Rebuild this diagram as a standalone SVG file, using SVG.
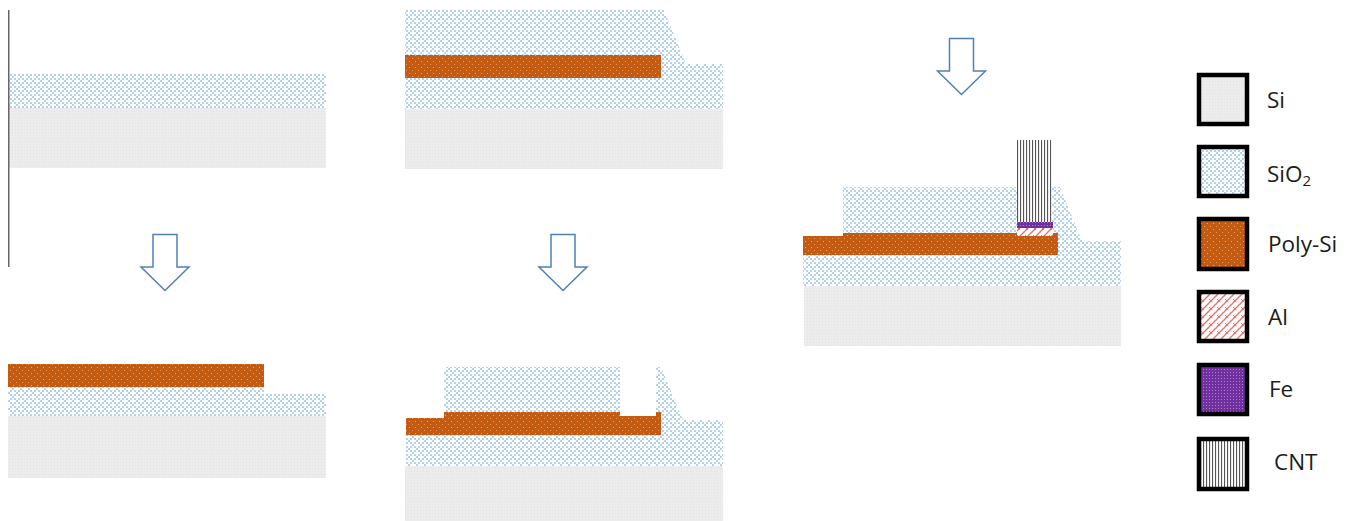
<svg xmlns="http://www.w3.org/2000/svg" width="1352" height="521" viewBox="0 0 1352 521">
<style>
.si{fill:url(#pSi)}.ox{fill:url(#pOx)}.po{fill:url(#pPo)}.al{fill:url(#pAl)}.fe{fill:url(#pFe)}.cnt{fill:url(#pCnt)}
.key{stroke:#000;stroke-width:4.5}
.arr{fill:#fff;stroke:#4f81b5;stroke-width:1.5;stroke-linejoin:miter}
text{font-family:"Open Sans","Noto Sans","Liberation Sans",sans-serif;font-size:22.5px;fill:#1c1c1c}
</style>
<defs>
<pattern id="pSi" width="3" height="3" patternUnits="userSpaceOnUse"><rect width="3" height="3" fill="#ececec"/><rect width="1" height="1" fill="#e2e2e2"/></pattern>
<pattern id="pOx" width="8" height="8" patternUnits="userSpaceOnUse"><rect width="8" height="8" fill="#fff"/><path d="M0 0h2v2h-2zM2 2h2v2h-2zM4 4h2v2h-2zM6 6h2v2h-2zM6 2h2v2h-2zM2 6h2v2h-2z" fill="#b2d1ef"/></pattern>
<pattern id="pPo" width="6" height="6" patternUnits="userSpaceOnUse"><rect width="6" height="6" fill="#c55a11"/><rect x="1" y="1" width="1" height="1" fill="#e8a878"/><rect x="4" y="4" width="1" height="1" fill="#e09860"/></pattern>
<pattern id="pAl" width="8" height="8" patternUnits="userSpaceOnUse"><rect width="8" height="8" fill="#fff"/><path d="M-1 9L9 -1M-1 1L1 -1M7 9L9 7" stroke="#e57373" stroke-width="1.4"/><path d="M1 3L4 6" stroke="#e57373" stroke-width="1"/></pattern>
<pattern id="pFe" width="3" height="3" patternUnits="userSpaceOnUse"><rect width="3" height="3" fill="#7030a0"/><rect width="1" height="1" fill="#a77cc8"/></pattern>
<pattern id="pCnt" width="3" height="3" patternUnits="userSpaceOnUse"><rect width="3" height="3" fill="#fff"/><rect x="0" width="1.1" height="3" fill="#555"/></pattern>
<path id="arrow" class="arr" d="M-12 0H12V32.500H24L0 56L-24 32.500H-12Z"/>
</defs>

<g id="connectors">
<use href="#arrow" x="165" y="234.500"/>
<use href="#arrow" x="563" y="234.500"/>
<use href="#arrow" x="961.500" y="38.500"/>
</g>

<g id="step-1">
<rect class="si" x="8" y="108" width="318" height="60"/>
<rect class="ox" x="8" y="74" width="318" height="34"/>
<rect x="8" y="10" width="1.500" height="257" fill="#666"/>
</g>

<g id="step-2">
<rect class="si" x="8" y="416" width="318" height="62"/>
<path class="ox" d="M8 387H264V394H326V416H8Z"/>
<rect class="po" x="8" y="364" width="256" height="23"/>
</g>

<g id="step-3">
<rect class="si" x="405" y="109" width="318" height="60"/>
<path class="ox" d="M405 10H664L686 64H723V109H405Z"/>
<rect class="po" x="405" y="55" width="256" height="23"/>
</g>

<g id="step-4">
<rect class="si" x="405" y="466" width="318" height="55"/>
<path class="ox" d="M406 434H661V416H656V367H661L683 420H723V466H406Z"/>
<rect class="ox" x="444" y="367" width="176" height="46"/>
<path class="po" d="M406 418H444V412H620V416H656V412H661V435H406Z"/>
</g>

<g id="step-5">
<rect class="si" x="804" y="286" width="317" height="60"/>
<path class="ox" d="M803 255H1058V187L1060 187L1082 241H1121V286H803Z"/>
<rect class="ox" x="843" y="187" width="174" height="47"/>
<rect class="ox" x="1051" y="187" width="8" height="46"/>
<path class="po" d="M803 236H843V233H1058V255H803Z"/>
<rect class="cnt" x="1017" y="140" width="34.500" height="82"/>
<rect class="fe" x="1017" y="222" width="36" height="6"/>
<rect class="al" x="1017" y="228" width="36" height="8"/>
</g>

<g id="legend-si"><rect class="si key" x="1199" y="75" width="48" height="49"/><text x="1267" y="108">Si</text></g>
<g id="legend-sio2"><rect class="ox key" x="1199" y="147" width="48" height="49"/><text x="1267" y="182">SiO<tspan font-size="15" dy="4">2</tspan></text></g>
<g id="legend-poly"><rect class="po key" x="1199" y="219" width="48" height="50"/><text x="1268" y="252">Poly-Si</text></g>
<g id="legend-al"><rect class="al key" x="1199" y="292" width="48" height="49"/><text x="1268" y="325">Al</text></g>
<g id="legend-fe"><rect class="fe key" x="1199" y="365" width="48" height="49"/><text x="1269" y="397">Fe</text></g>
<g id="legend-cnt"><rect class="cnt key" x="1199" y="439" width="48" height="50"/><text x="1274" y="470">CNT</text></g>
</svg>
